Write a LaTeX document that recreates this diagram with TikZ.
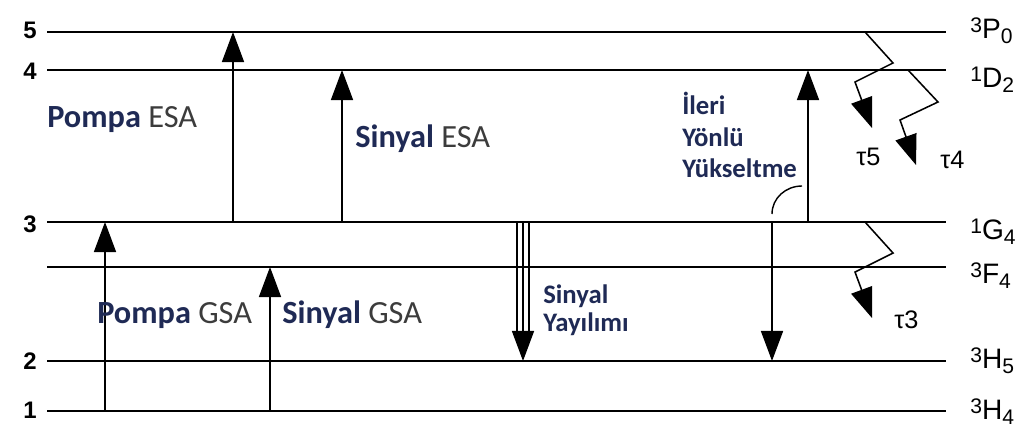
\documentclass[tikz,border=0pt]{standalone}
\usepackage{fontspec}
\setmainfont{Carlito}
\newfontfamily\arialf{Liberation Sans}
\usetikzlibrary{arrows.meta, calc}

\definecolor{labnavy}{HTML}{1F2A55}
\definecolor{labgray}{HTML}{3C3C3C}

% term symbol: superscript, letter, subscript
\newcommand{\lvlterm}[3]{{\arialf\fontsize{15}{15}\selectfont\raisebox{0.5ex}{#1}\fontsize{20}{20}\selectfont #2\fontsize{15}{15}\selectfont\raisebox{-0.45ex}{#3}}}

\begin{document}
\begin{tikzpicture}[
    x=0.025cm, y=-0.025cm,
    level/.style={line width=1.4pt},
    uparr/.style={line width=1.1pt, -{Triangle[length=7.5mm, width=5.5mm]}},
    zig/.style={line width=1.1pt, -{Triangle[length=7.5mm, width=5.5mm]}},
    num/.style={font=\arialf\bfseries\fontsize{17}{17}\selectfont, inner sep=0pt},
    term/.style={anchor=base west, inner sep=0pt},
    tau/.style={anchor=base west, inner sep=0pt, font=\arialf\fontsize{18}{18}\selectfont},
    lab/.style={anchor=base west, inner sep=0pt, font=\fontsize{23}{23}\selectfont},
    stack/.style={anchor=base west, inner sep=0pt, text=labnavy,
                  font=\bfseries\fontsize{19}{19}\selectfont}
]
\useasboundingbox (0,0) rectangle (1024,434);

% energy levels
\foreach \name/\y in {p0/32, d2/70, g4/222, f4/267, h5/361, h4/411}{
    \coordinate (\name W) at (47,\y);
    \coordinate (\name E) at (946,\y);
    \draw[level] (\name W) -- (\name E);
}

% level numbers
\node[num] (n5) at (30,30) {5};
\node[num] (n4) at (30,71) {4};
\node[num] (n3) at (30,224) {3};
\node[num] (n2) at (30,361) {2};
\node[num] (n1) at (30,410) {1};

% term symbols
\node[term] (tp0) at (970,38) {\lvlterm{3}{P}{0}};
\node[term] (td2) at (970,87) {\lvlterm{1}{D}{2}};
\node[term] (tg4) at (970,239) {\lvlterm{1}{G}{4}};
\node[term] (tf4) at (970,283) {\lvlterm{3}{F}{4}};
\node[term] (th5) at (970,368) {\lvlterm{3}{H}{5}};
\node[term] (th4) at (970,419) {\lvlterm{3}{H}{4}};

% arrow columns
\coordinate (pgsa) at (105,0);
\coordinate (pesa) at (233,0);
\coordinate (sgsa) at (270,0);
\coordinate (sesa) at (342,0);
\coordinate (yay) at (523,0);
\coordinate (fwdup) at (808,0);
\coordinate (fwddn) at (772,0);

\draw[uparr] (pgsa |- h4W) -- (pgsa |- g4W);
\draw[uparr] (pesa |- g4W) -- (pesa |- p0W);
\draw[uparr] (sgsa |- h4W) -- (sgsa |- f4W);
\draw[uparr] (sesa |- g4W) -- (sesa |- d2W);

% signal emission (triple line)
\draw[line width=1pt] ($(yay |- g4W)+(-6,0)$) -- ($(yay |- h5W)+(-6,-26)$);
\draw[line width=1pt] ($(yay |- g4W)+(6,0)$) -- ($(yay |- h5W)+(6,-26)$);
\draw[uparr, line width=1pt] (yay |- g4W) -- (yay |- h5W);

% forward amplification
\draw[uparr] (fwdup |- g4W) -- (fwdup |- d2W);
\draw[uparr] (fwddn |- g4W) -- (fwddn |- h5W);
\coordinate (arcS) at (772,214);
\coordinate (arcE) at (802,186);
\draw[line width=1pt] (arcS) to[out=90, in=180] (arcE);

% non-radiative decays
\coordinate (z5) at (865,32);
\coordinate (z4) at (908,70);
\coordinate (z3) at (865,222);
\draw[zig] (z5) -- ++(28,31) -- ++(-38,19) -- ++(17,46);
\draw[zig] (z4) -- ++(30,32) -- ++(-38,18) -- ++(16,45);
\draw[zig] (z3) -- ++(28,31) -- ++(-38,19) -- ++(17,46);

\node[tau] (t5) at (856,165) {τ5};
\node[tau] (t4) at (940,168) {τ4};
\node[tau] (t3) at (894,328) {τ3};

% labels
\node[lab] (lpesa) at (47,127) {\textcolor{labnavy}{\bfseries Pompa} \textcolor{labgray}{ESA}};
\node[lab] (lsesa) at (355,147) {\textcolor{labnavy}{\bfseries Sinyal} \textcolor{labgray}{ESA}};
\node[lab] (lpgsa) at (97,323) {\textcolor{labnavy}{\bfseries Pompa} \textcolor{labgray}{GSA}};
\node[lab] (lsgsa) at (282,323) {\textcolor{labnavy}{\bfseries Sinyal} \textcolor{labgray}{GSA}};
\node[stack] (lyay1) at (543,303) {Sinyal};
\node[stack] (lyay2) at (543,331) {Yayılımı};
\node[stack] (lfwd1) at (682,114) {İleri};
\node[stack] (lfwd2) at (682,146) {Yönlü};
\node[stack] (lfwd3) at (682,177) {Yükseltme};
\end{tikzpicture}
\end{document}
